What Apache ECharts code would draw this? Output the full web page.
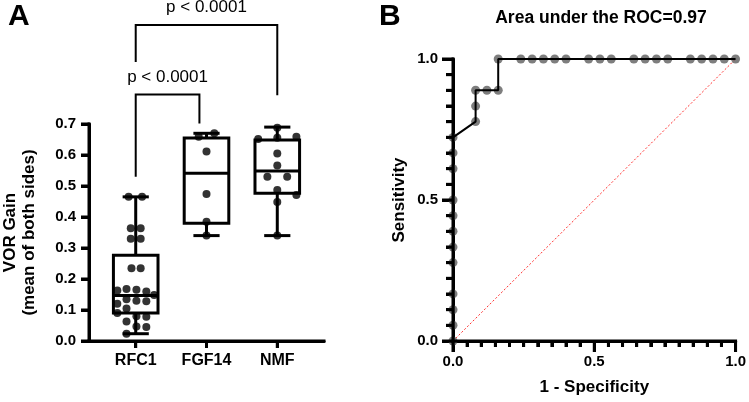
<!DOCTYPE html>
<html>
<head>
<meta charset="utf-8">
<title>VOR gain and ROC</title>
<script src="https://cdn.jsdelivr.net/npm/echarts@6/dist/echarts.min.js"></script>
<style>
  html, body { margin: 0; padding: 0; background: #fff; }
  #chart { width: 749px; height: 402px; }
</style>
</head>
<body>
<div id="chart"></div>
<script>
// ---- panel A: VOR gain per group ----
const groups = ["RFC1", "FGF14", "NMF"];
// min, q1, median, q3, max
const boxStats = [
  [0.0235, 0.09, 0.147, 0.277, 0.465],
  [0.34, 0.38, 0.541, 0.655, 0.67],
  [0.34, 0.477, 0.548, 0.648, 0.69]
];
const rfc1Gain = [0.465, 0.465, 0.364, 0.364, 0.33, 0.33, 0.235, 0.235, 0.168, 0.165, 0.163, 0.16, 0.148,
  0.135, 0.13, 0.128, 0.12, 0.105, 0.09, 0.08, 0.078, 0.063, 0.047, 0.045, 0.0235];
const rfc1Spread = [-0.1, 0.09, -0.07, 0.07, -0.07, 0.07, -0.06, 0.07, -0.13, 0.01, -0.26, 0.15, 0.26,
  -0.13, 0.01, 0.15, -0.26, -0.13, -0.26, 0.01, 0.15, -0.13, 0.01, 0.15, -0.13];
const fgf14Gain = [0.67, 0.659, 0.611, 0.474, 0.385, 0.34];
const fgf14Spread = [0.11, -0.11, 0, 0, 0, 0];
const nmfGain = [0.688, 0.659, 0.656, 0.652, 0.605, 0.566, 0.53, 0.53, 0.487, 0.471, 0.448, 0.34];
const nmfSpread = [0, 0.27, 0, -0.27, 0, 0, -0.14, 0.14, 0, 0.27, 0, 0];
const pLabels = ["p < 0.0001", "p < 0.0001"];
const gainTicks = ["0.0", "0.1", "0.2", "0.3", "0.4", "0.5", "0.6", "0.7"];

// ---- panel B: ROC curve ----
const rocFpr = [0, 0, 0, 0, 0, 0, 0, 0, 0, 0, 0, 0,
  0.08, 0.08, 0.08, 0.12, 0.16,
  0.16, 0.24, 0.28, 0.32, 0.36, 0.40, 0.48, 0.52, 0.56, 0.64, 0.68, 0.72, 0.76, 0.84, 0.88, 0.92, 0.96, 1.0];
const rocSens = [0, 0.056, 0.111, 0.167, 0.278, 0.333, 0.389, 0.444, 0.5, 0.611, 0.667, 0.722,
  0.778, 0.833, 0.889, 0.889, 0.889,
  1, 1, 1, 1, 1, 1, 1, 1, 1, 1, 1, 1, 1, 1, 1, 1, 1, 1];
const chanceLine = [[0, 0], [1, 1]];
const aucTitle = "Area under the ROC=0.97";

const font = "'Liberation Sans', Arial, sans-serif";
const black = "#000";

const groupPoints = [rfc1Gain, fgf14Gain, nmfGain].map((vals, g) => {
  const spread = [rfc1Spread, fgf14Spread, nmfSpread][g];
  return vals.map((v, i) => [g + spread[i], v]);
}).flat();

const rocPoints = rocFpr.map((x, i) => [x, rocSens[i]]);

const boxHalf = 0.315;
const capHalf = 0.185;

function seg(a, b, st) {
  return { type: "line", shape: { x1: a[0], y1: a[1], x2: b[0], y2: b[1] }, style: st };
}

function renderBox(params, api) {
  const g = api.value(0);
  const s = boxStats[g];
  const p = (dx, v) => api.coord([g + dx, v]);
  const st = { stroke: black, lineWidth: 3, fill: null };
  const tl = p(-boxHalf, s[3]);
  const br = p(boxHalf, s[1]);
  return {
    type: "group",
    children: [
      { type: "rect", shape: { x: tl[0], y: tl[1], width: br[0] - tl[0], height: br[1] - tl[1] }, style: st },
      seg(p(-boxHalf, s[2]), p(boxHalf, s[2]), st),
      seg(p(0, s[3]), p(0, s[4]), st),
      seg(p(0, s[1]), p(0, s[0]), st),
      seg(p(-capHalf, s[4]), p(capHalf, s[4]), st),
      seg(p(-capHalf, s[0]), p(capHalf, s[0]), st)
    ]
  };
}

// bracket outlines in axis units (group index, gain)
const brackets = [
  { path: [[0, 0.53], [0, 0.795], [0.9, 0.795], [0.9, 0.702]], label: [0.45, 0.852] },
  { path: [[0, 0.9], [0, 1.019], [2, 1.019], [2, 0.793]], label: [1, 1.075] }
];

function renderBracket(params, api) {
  const b = brackets[params.dataIndex];
  const pts = b.path.map(q => api.coord(q));
  const lp = api.coord(b.label);
  return {
    type: "group",
    children: [
      { type: "polyline", shape: { points: pts }, style: { stroke: black, lineWidth: 2, fill: null } },
      { type: "text", x: lp[0], y: lp[1],
        style: { text: pLabels[params.dataIndex], fill: black, font: "17px " + font, align: "center", verticalAlign: "middle" } }
    ]
  };
}

// axis lines and tick marks, placed through the axes' own coordinates
const frames = [
  { x: [-0.66, 2.66], y: [0, 0.7],
    xTicks: [[0, 7], [1, 7], [2, 7]],
    yTicks: gainTicks.map((t, i) => [i / 10, 8]) },
  { x: [0, 1], y: [0, 1],
    xTicks: Array.from({ length: 21 }, (_, i) => [i / 20, i % 10 === 0 ? 11 : 6]),
    yTicks: Array.from({ length: 19 }, (_, i) => [i / 18, i % 9 === 0 ? 11 : 7]) }
];

function renderFrame(params, api) {
  const f = frames[api.value(2)];
  const st = { stroke: black, lineWidth: 3, fill: null, lineCap: "square" };
  const tk = { stroke: black, lineWidth: 3, fill: null };
  const o = api.coord([f.x[0], f.y[0]]);
  const xe = api.coord([f.x[1], f.y[0]]);
  const ye = api.coord([f.x[0], f.y[1]]);
  const kids = [seg(o, xe, st), seg(o, ye, st)];
  f.xTicks.forEach(([v, len]) => {
    const p = api.coord([v, f.y[0]]);
    kids.push(seg([p[0], p[1]], [p[0], p[1] + len], tk));
  });
  f.yTicks.forEach(([v, len]) => {
    const p = api.coord([f.x[0], v]);
    kids.push(seg([p[0] - len, p[1]], [p[0], p[1]], tk));
  });
  return { type: "group", children: kids };
}

const chart = echarts.init(document.getElementById("chart"));

const tickLabel = { color: black, fontFamily: font, fontWeight: "bold", fontSize: 15 };
const axisName = { color: black, fontFamily: font, fontWeight: "bold", fontSize: 17 };
const solid = () => ({ show: true, onZero: false, lineStyle: { color: black, width: 3 } });
const tickStyle = { color: black, width: 3 };

chart.setOption({
  animation: false,
  backgroundColor: "#fff",
  title: [
    { text: "A", left: 3, top: -3, textStyle: { fontFamily: font, fontWeight: "bold", fontSize: 30, color: black } },
    { text: "B", left: 374, top: -3, textStyle: { fontFamily: font, fontWeight: "bold", fontSize: 30, color: black } },
    { text: aucTitle, left: 596, top: 4, textAlign: "center",
      textStyle: { fontFamily: font, fontWeight: "bold", fontSize: 17.5, color: black } }
  ],
  grid: [
    { left: 88, right: 425, top: 124, bottom: 61 },
    { left: 453, right: 11, top: 59, bottom: 61 }
  ],
  xAxis: [
    {
      gridIndex: 0, type: "value", min: -0.66, max: 2.66,
      splitLine: { show: false }, axisLine: solid(),
      axisTick: { show: true, customValues: [0, 1, 2], length: 7, lineStyle: tickStyle },
      axisLabel: Object.assign({ customValues: [0, 1, 2], margin: 12, formatter: v => groups[Math.round(v)] }, tickLabel, { fontSize: 16 })
    },
    {
      gridIndex: 1, type: "value", min: 0, max: 1, interval: 0.5,
      name: "1 - Specificity", nameLocation: "middle", nameGap: 38, nameTextStyle: axisName,
      splitLine: { show: false }, axisLine: solid(),
      axisTick: { show: true, length: 11, lineStyle: tickStyle },
      minorTick: { show: true, splitNumber: 10, length: 6, lineStyle: tickStyle },
      axisLabel: Object.assign({ margin: 13, formatter: v => v.toFixed(1) }, tickLabel)
    }
  ],
  yAxis: [
    {
      gridIndex: 0, type: "value", min: 0, max: 0.7, interval: 0.1,
      name: "VOR Gain\n(mean of both sides)", nameLocation: "middle", nameGap: 50,
      nameTextStyle: Object.assign({ lineHeight: 19 }, axisName),
      splitLine: { show: false }, axisLine: solid(),
      axisTick: { show: true, length: 8, lineStyle: tickStyle },
      axisLabel: Object.assign({ margin: 13, formatter: v => gainTicks[Math.round(v * 10)] }, tickLabel)
    },
    {
      gridIndex: 1, type: "value", min: 0, max: 1, interval: 0.5,
      name: "Sensitivity", nameLocation: "middle", nameGap: 45, nameTextStyle: axisName,
      splitLine: { show: false }, axisLine: solid(),
      axisTick: { show: true, length: 11, lineStyle: tickStyle },
      minorTick: { show: true, splitNumber: 9, length: 7, lineStyle: tickStyle },
      axisLabel: Object.assign({ margin: 15, formatter: v => v.toFixed(1) }, tickLabel)
    }
  ],
  series: [
    {
      type: "custom", xAxisIndex: 0, yAxisIndex: 0, renderItem: renderBox,
      data: groups.map((g, i) => [i, boxStats[i][0], boxStats[i][4]]), encode: { x: 0, y: [1, 2] }, z: 2
    },
    {
      type: "scatter", xAxisIndex: 0, yAxisIndex: 0, data: groupPoints,
      symbolSize: 8, itemStyle: { color: black }, z: 3
    },
    {
      type: "custom", xAxisIndex: 0, yAxisIndex: 0, renderItem: renderBracket,
      data: pLabels.map((t, i) => [i, 0.5]), encode: { x: 0, y: 1 }, clip: false, z: 2
    },
    {
      type: "line", xAxisIndex: 1, yAxisIndex: 1, data: chanceLine, showSymbol: false,
      lineStyle: { color: "#ff3030", width: 1, type: [2, 2] }, z: 1
    },
    {
      type: "scatter", xAxisIndex: 1, yAxisIndex: 1, data: rocPoints, clip: false,
      symbolSize: 9, itemStyle: { color: "#5e5e5e" }, z: 2
    },
    {
      type: "line", xAxisIndex: 1, yAxisIndex: 1, data: rocPoints, showSymbol: false, clip: false,
      lineStyle: { color: black, width: 2 }, z: 3
    },
    {
      type: "custom", xAxisIndex: 0, yAxisIndex: 0, renderItem: renderFrame,
      data: [[0, 0.35, 0]], encode: { x: 0, y: 1 }, clip: false, silent: true, zlevel: 1, z: 10
    },
    {
      type: "custom", xAxisIndex: 1, yAxisIndex: 1, renderItem: renderFrame,
      data: [[0.5, 0.5, 1]], encode: { x: 0, y: 1 }, clip: false, silent: true, zlevel: 1, z: 10
    }
  ]
});
</script>
</body>
</html>
